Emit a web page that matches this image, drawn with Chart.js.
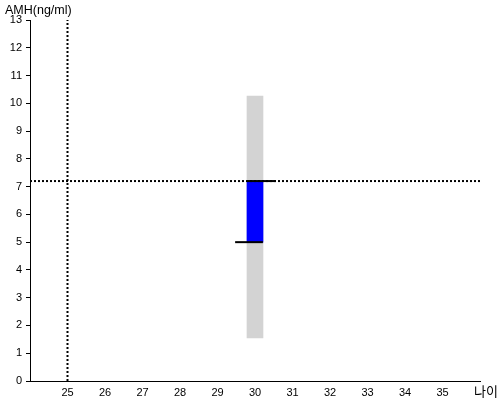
<!DOCTYPE html>
<html>
<head>
<meta charset="utf-8">
<script src="https://cdn.jsdelivr.net/npm/chart.js@4/dist/chart.umd.min.js"></script>
<style>
  html, body { margin: 0; padding: 0; background: #fff; }
  #wrap { position: relative; width: 500px; height: 400px; }
</style>
</head>
<body>
<div id="wrap"><canvas id="c" width="500" height="400"></canvas></div>
<script>
// ---- data ----
const yAxisTitle = 'AMH(ng/ml)';
const xAxisTitle = '나이';
const xTickValues = [25, 26, 27, 28, 29, 30, 31, 32, 33, 34, 35];
const yTickValues = [0, 1, 2, 3, 4, 5, 6, 7, 8, 9, 10, 11, 12, 13];
const patientAge = [30];
const normalRangeLow = [1.55];
const normalRangeHigh = [10.26];
const patientLow = [5.0];
const patientHigh = [7.2];
const upperMarkX = [29.79, 30.56];
const lowerMarkX = [29.47, 30.21];
const refAge = 25;
const refAmh = 7.2;

const textPlugin = {
  id: 'textPlugin',
  afterDraw(chart) {
    const ctx = chart.ctx;
    ctx.save();
    ctx.fillStyle = '#000';
    ctx.textAlign = 'left';
    ctx.textBaseline = 'alphabetic';
    ctx.font = '12.5px "Liberation Sans", Arial, sans-serif';
    ctx.fillText(yAxisTitle, 5, 14);
    ctx.font = '13px "Noto Sans CJK KR", sans-serif';
    ctx.fillText(xAxisTitle, 474, 396);
    ctx.restore();
  }
};

new Chart(document.getElementById('c'), {
  type: 'bar',
  data: {
    datasets: [
      {
        type: 'line',
        data: [{x: 24, y: refAmh}, {x: 36, y: refAmh}],
        borderColor: '#000', borderWidth: 2, borderDash: [2, 2],
        borderCapStyle: 'butt', pointRadius: 0, order: 1
      },
      {
        type: 'line',
        data: [{x: refAge, y: 0}, {x: refAge, y: 13}],
        borderColor: '#000', borderWidth: 2, borderDash: [2, 2],
        borderCapStyle: 'butt', pointRadius: 0, order: 1
      },
      {
        type: 'bar',
        data: patientAge.map((a, i) => ({x: a, y: [normalRangeLow[i], normalRangeHigh[i]]})),
        backgroundColor: '#d3d3d3', barThickness: 16, grouped: false, order: 5
      },
      {
        type: 'bar',
        data: patientAge.map((a, i) => ({x: a, y: [patientLow[i], patientHigh[i]]})),
        backgroundColor: '#0000ff', barThickness: 16, grouped: false, order: 4
      },
      {
        type: 'line',
        data: upperMarkX.map(x => ({x: x, y: patientHigh[0]})),
        borderColor: '#000', borderWidth: 2, pointRadius: 0, order: 0
      },
      {
        type: 'line',
        data: lowerMarkX.map(x => ({x: x, y: patientLow[0]})),
        borderColor: '#000', borderWidth: 2, pointRadius: 0, order: 0
      }
    ]
  },
  options: {
    responsive: false,
    animation: false,
    devicePixelRatio: 1,
    layout: { padding: { top: 20, right: 20, left: 0, bottom: 0 } },
    plugins: { legend: { display: false }, tooltip: { enabled: false } },
    scales: {
      x: {
        type: 'linear',
        min: 24, max: 36,
        offset: false,
        grid: { display: false, drawTicks: false, offset: false },
        border: { display: true, color: '#000', width: 1 },
        afterBuildTicks(scale) {
          scale.ticks = xTickValues.map(v => ({value: v}));
        },
        ticks: {
          color: '#000', padding: 5, maxRotation: 0, autoSkip: false,
          font: { family: '"Liberation Sans", Arial, sans-serif', size: 11 }
        },
        afterFit(scale) { scale.height = 19; }
      },
      y: {
        type: 'linear',
        min: 0, max: 13,
        grid: { display: true, drawOnChartArea: false, drawTicks: true, tickLength: 4, color: '#000' },
        border: { display: true, color: '#000', width: 1 },
        afterBuildTicks(scale) {
          scale.ticks = yTickValues.map(v => ({value: v}));
        },
        ticks: {
          color: '#000', padding: 4, autoSkip: false,
          font: { family: '"Liberation Sans", Arial, sans-serif', size: 11 }
        },
        afterFit(scale) { scale.width = 30; }
      }
    }
  },
  plugins: [textPlugin]
});
</script>
</body>
</html>
